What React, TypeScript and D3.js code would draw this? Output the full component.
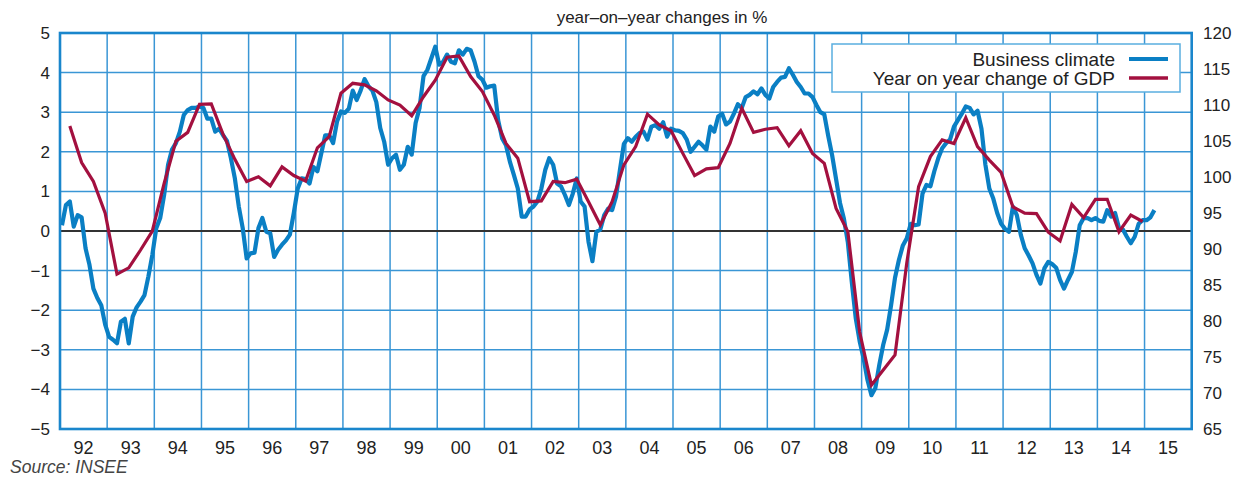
import React from "react";
import * as d3 from "d3";

// Business climate (index, right axis), monthly from Jan 1992
const climateStartYear = 1992;
const climate: number[] = [
  // 1992
  93.3, 96.1, 96.6, 93.1, 94.7, 94.4, 90.1, 87.8, 84.5, 83.2, 82.2, 79.5,
  // 1993
  77.8, 77.4, 76.9, 79.9, 80.3, 76.9, 80.6, 81.9, 82.7, 83.6, 86.2, 89.2,
  // 1994
  92.9, 94.3, 97.5, 101.7, 103.8, 104.7, 106.3, 108.6, 109.3, 109.6, 109.6, 109.8,
  // 1995
  109.6, 108.1, 108.1, 106.3, 106.7, 105.8, 105.0, 102.6, 99.8, 95.9, 92.9, 88.7,
  // 1996
  89.4, 89.5, 92.9, 94.3, 92.4, 92.2, 88.9, 89.9, 90.6, 91.2, 92.0, 95.0,
  // 1997
  98.4, 99.8, 99.7, 99.1, 101.4, 100.8, 103.3, 105.8, 105.8, 104.7, 107.7, 109.1,
  // 1998
  108.9, 109.5, 112.0, 110.7, 112.0, 113.6, 112.6, 112.0, 110.4, 106.8, 104.9, 101.7,
  // 1999
  102.6, 103.1, 101.0, 101.7, 104.2, 103.1, 107.5, 109.6, 114.0, 114.9, 116.5, 118.1,
  // 2000
  115.6, 116.0, 117.0, 116.0, 115.8, 117.6, 117.0, 117.8, 117.6, 116.0, 114.0, 113.5,
  // 2001
  112.4, 112.6, 112.7, 107.9, 105.4, 104.4, 102.1, 100.3, 98.4, 94.5, 94.5, 95.5,
  // 2002
  95.9, 96.6, 98.4, 101.0, 102.6, 101.7, 99.1, 98.7, 97.5, 96.1, 97.7, 99.8,
  // 2003
  96.6, 95.9, 91.0, 88.3, 92.4, 92.7, 94.7, 95.6, 95.4, 97.3, 101.0, 104.6,
  // 2004
  105.4, 104.9, 105.6, 106.1, 106.3, 105.2, 107.0, 107.2, 106.7, 107.6, 105.6, 106.7,
  // 2005
  106.5, 106.4, 106.1, 105.2, 103.5, 104.2, 104.9, 104.4, 103.8, 107.0, 106.3, 108.4,
  // 2006
  108.8, 107.3, 107.7, 108.8, 110.1, 109.6, 111.1, 111.4, 111.9, 111.5, 112.3, 111.4,
  // 2007
  110.9, 112.5, 113.2, 113.8, 113.9, 115.1, 114.2, 113.2, 112.5, 111.6, 111.6, 111.1,
  // 2008
  110.0, 109.0, 108.7, 105.7, 103.0, 99.7, 96.4, 94.2, 90.9, 85.4, 80.4, 77.2,
  // 2009
  74.8, 71.8, 69.7, 70.7, 73.9, 76.7, 78.8, 82.2, 86.0, 88.5, 90.5, 91.5,
  // 2010
  93.5, 93.3, 93.4, 97.7, 98.9, 98.7, 100.8, 102.6, 104.0, 104.7, 105.2, 107.0,
  // 2011
  107.9, 108.8, 109.8, 109.6, 108.7, 109.2, 106.7, 101.7, 98.4, 97.0, 95.0, 93.5,
  // 2012
  92.8, 92.4, 95.9, 94.7, 92.0, 90.1, 89.1, 88.0, 86.4, 85.2, 87.3, 88.2,
  // 2013
  87.9, 87.4, 85.7, 84.5, 85.7, 86.8, 89.6, 93.3, 94.3, 94.3, 94.0, 94.3,
  // 2014
  93.9, 93.8, 95.4, 94.5, 95.0, 92.9, 92.7, 91.7, 90.8, 91.7, 93.5, 94.0,
  // 2015
  94.0, 94.4, 95.4,
];

// Year-on-year change of GDP (%, left axis), quarterly from 1992 Q1
const gdpStartYear = 1992;
const gdp: number[] = [
  2.65, 1.73, 1.25, 0.45,
  -1.09, -0.93, -0.48, 0.0,
  1.2, 2.27, 2.49, 3.2,
  3.21, 2.44, 1.81, 1.25,
  1.37, 1.14, 1.62, 1.4,
  1.26, 2.1, 2.38, 3.48,
  3.73, 3.69, 3.54, 3.31,
  3.18, 2.91, 3.39, 3.81,
  4.39, 4.42, 3.9, 3.52,
  2.93, 2.21, 1.84, 0.74,
  0.76, 1.25, 1.22, 1.31,
  0.74, 0.15, 0.74, 1.67,
  2.13, 2.95, 2.68, 2.53,
  1.96, 1.4, 1.57, 1.6,
  2.21, 3.1, 2.49, 2.57,
  2.61, 2.15, 2.53, 1.96,
  1.71, 0.57, -0.02, -2.55,
  -3.89, -3.51, -3.13, -0.8,
  1.12, 1.88, 2.3, 2.21,
  2.86, 2.13, 1.79, 1.48,
  0.61, 0.45, 0.44, -0.03,
  -0.25, 0.67, 0.34, 0.8,
  0.8, -0.02, 0.4, 0.24,
];

const years = d3.range(1992, 2016);
const yearLabels = years.map((y) => String(y % 100).padStart(2, "0"));
const leftTicks = d3.range(-5, 6, 1);
const rightTicks = d3.range(65, 121, 5);

const title = "year\u2013on\u2013year changes in %";
const source = "Source: INSEE";
const legendClimate = "Business climate";
const legendGdp = "Year on year change of GDP";

const W = 1238;
const H = 477;
const M = { left: 60, right: 1191.7, top: 33, bottom: 429 };

const BLUE = "#0a7fc4";
const RED = "#a3103f";
const GRID = "#3a96d5";
const TEXT = "#222";
const FONT = "'Liberation Sans', Arial, Helvetica, sans-serif";

export default function App() {
  const x = d3.scaleLinear().domain([1992, 2016]).range([M.left, M.right]);
  const yL = d3.scaleLinear().domain([-5, 5]).range([M.bottom, M.top]);
  const yR = d3.scaleLinear().domain([65, 120]).range([M.bottom, M.top]);

  const climatePts: [number, number][] = climate.map((v, i) => [
    climateStartYear + (i + 0.5) / 12,
    v,
  ]);
  const gdpPts: [number, number][] = gdp.map((v, i) => [
    gdpStartYear + (i * 3 + 2.5) / 12,
    v,
  ]);

  const climateLine = d3
    .line<[number, number]>()
    .x((d) => x(d[0]))
    .y((d) => yR(d[1]));
  const gdpLine = d3
    .line<[number, number]>()
    .x((d) => x(d[0]))
    .y((d) => yL(d[1]));

  const legend = { x0: 832, x1: 1180, y0: 44, y1: 92 };

  return (
    <svg
      width={W}
      height={H}
      style={{ position: "absolute", left: 0, top: 0, background: "#fff" }}
      fontFamily={FONT}
    >
      <rect x={0} y={0} width={W} height={H} fill="#fff" />
      <text x={662} y={23} textAnchor="middle" fontSize={17} fill={TEXT}>
        {title}
      </text>

      {/* horizontal grid */}
      {leftTicks.map((t) => (
        <line
          key={"h" + t}
          x1={M.left}
          x2={M.right}
          y1={yL(t)}
          y2={yL(t)}
          stroke={GRID}
          strokeWidth={1.5}
        />
      ))}
      {/* vertical grid */}
      {years.map((yr) => (
        <line
          key={"v" + yr}
          x1={x(yr)}
          x2={x(yr)}
          y1={M.top}
          y2={M.bottom}
          stroke={GRID}
          strokeWidth={1.5}
        />
      ))}
      {/* zero line */}
      <line
        x1={M.left}
        x2={M.right}
        y1={yL(0)}
        y2={yL(0)}
        stroke="#333"
        strokeWidth={2}
      />

      <path
        d={climateLine(climatePts) || ""}
        fill="none"
        stroke={BLUE}
        strokeWidth={4.2}
        strokeLinejoin="round"
      />
      <path
        d={gdpLine(gdpPts) || ""}
        fill="none"
        stroke={RED}
        strokeWidth={3.2}
        strokeLinejoin="miter"
      />

      {/* frame */}
      <rect
        x={M.left}
        y={M.top}
        width={M.right - M.left}
        height={M.bottom - M.top}
        fill="none"
        stroke="#1a86cc"
        strokeWidth={2.6}
      />

      {/* left axis labels */}
      {leftTicks.map((t) => (
        <text
          key={"l" + t}
          x={50}
          y={yL(t)}
          dy="0.35em"
          textAnchor="end"
          fontSize={17}
          fill={TEXT}
        >
          {t < 0 ? "\u2212" + Math.abs(t) : String(t)}
        </text>
      ))}
      {/* right axis labels */}
      {rightTicks.map((t) => (
        <text
          key={"r" + t}
          x={1203}
          y={yR(t)}
          dy="0.35em"
          textAnchor="start"
          fontSize={17}
          fill={TEXT}
        >
          {t}
        </text>
      ))}
      {/* x labels */}
      {years.map((yr, i) => (
        <text
          key={"x" + yr}
          x={x(yr + 0.5)}
          y={454}
          textAnchor="middle"
          fontSize={18}
          fill={TEXT}
        >
          {yearLabels[i]}
        </text>
      ))}

      {/* legend */}
      <rect
        x={legend.x0}
        y={legend.y0}
        width={legend.x1 - legend.x0}
        height={legend.y1 - legend.y0}
        fill="#fff"
        stroke="#5aaee0"
        strokeWidth={1.5}
      />
      <text x={1115} y={66} textAnchor="end" fontSize={19} fill={TEXT}>
        {legendClimate}
      </text>
      <text x={1115} y={85} textAnchor="end" fontSize={19} fill={TEXT}>
        {legendGdp}
      </text>
      <line x1={1129} x2={1168} y1={59} y2={59} stroke={BLUE} strokeWidth={4} />
      <line x1={1129} x2={1168} y1={78} y2={78} stroke={RED} strokeWidth={3.5} />

      <text x={10} y={473} fontSize={17.5} fontStyle="italic" fill="#444">
        {source}
      </text>
    </svg>
  );
}
